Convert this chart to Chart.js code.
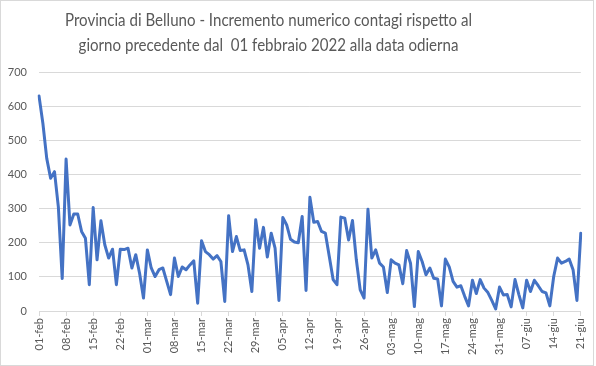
<!DOCTYPE html>
<html>
<head>
<meta charset="utf-8">
<script src="https://cdn.jsdelivr.net/npm/chart.js@4.4.0/dist/chart.umd.min.js"></script>
<style>
  html, body { margin: 0; padding: 0; background: #ffffff; }
  #wrap { position: relative; width: 596px; height: 366px; }
</style>
</head>
<body>
<div id="wrap"><canvas id="c" width="596" height="366"></canvas></div>
<script>
// Title lines
const titleLines = [
  "Provincia di Belluno - Incremento numerico contagi rispetto al",
  "giorno precedente dal  01 febbraio 2022 alla data odierna"
];

// Month abbreviations used for the category labels (Italian)
const monthNames = ["feb", "mar", "apr", "mag", "giu"];
const monthDays = [28, 31, 30, 31, 21]; // 01-feb .. 21-giu

// Tick labels shown on the x axis (every 7 days)
const tickLabels = ["01-feb","08-feb","15-feb","22-feb","01-mar","08-mar","15-mar","22-mar","29-mar",
  "05-apr","12-apr","19-apr","26-apr","03-mag","10-mag","17-mag","24-mag","31-mag","07-giu","14-giu","21-giu"];

// Daily increments (01-feb .. 21-giu)
const febValues = [630,550,447,389,408,305,95,445,252,284,284,233,213,77,303,150,264,194,155,181,77,181,180,184,126,165,110,38];
const marValues = [179,126,101,121,126,87,48,155,101,129,121,135,147,23,206,174,165,152,162,145,28,279,174,218,177,179,135,57,267,184,245];
const aprValues = [158,228,184,31,274,252,210,202,200,277,60,333,260,262,233,228,160,92,77,275,272,208,265,150,62,38,298,155,179,140];
const magValues = [129,54,150,140,135,80,177,140,13,174,145,106,126,96,94,15,152,129,87,70,74,43,15,90,51,92,67,54,31,6,70];
const giuValues = [47,48,12,92,48,9,90,57,90,74,57,53,15,101,155,140,145,152,121,31,228];

// Build categories
const categories = [];
monthNames.forEach((m, mi) => {
  for (let d = 1; d <= monthDays[mi]; d++) {
    categories.push(String(d).padStart(2, "0") + "-" + m);
  }
});
const values = [].concat(febValues, marValues, aprValues, magValues, giuValues);

const textColor = "#595959";
const gridColor = "#d9d9d9";
const fontFamily = "Lato, 'Open Sans', 'Noto Sans', sans-serif";

const decor = {
  id: "decor",
  beforeDraw(chart) {
    const ctx = chart.ctx;
    ctx.save();
    ctx.fillStyle = "#ffffff";
    ctx.fillRect(0, 0, chart.width, chart.height);
    ctx.restore();
  },
  afterDraw(chart) {
    const ctx = chart.ctx;
    ctx.save();
    ctx.strokeStyle = "#d9d9d9";
    ctx.lineWidth = 1;
    ctx.strokeRect(0.5, 0.5, 593, 365);
    ctx.fillStyle = textColor;
    ctx.font = "18px " + fontFamily;
    ctx.textAlign = "center";
    ctx.textBaseline = "middle";
    const w0 = ctx.measureText(titleLines[0]).width;
    const sx = 407 / w0;
    ctx.translate(268.5, 0);
    ctx.scale(sx, 1);
    ctx.fillText(titleLines[0], 0, 20);
    ctx.fillText(titleLines[1], 0, 45);
    ctx.restore();
  }
};

new Chart(document.getElementById("c"), {
  type: "line",
  data: {
    labels: categories,
    datasets: [{
      data: values,
      borderColor: "#4472c4",
      borderWidth: 3,
      pointRadius: 0,
      pointHoverRadius: 0,
      tension: 0,
      fill: false,
      borderJoinStyle: "round",
      borderCapStyle: "round"
    }]
  },
  options: {
    responsive: false,
    animation: false,
    devicePixelRatio: 1,
    layout: { padding: { top: 72, left: 0, right: 14, bottom: 0 } },
    plugins: {
      legend: { display: false },
      title: { display: false },
      tooltip: { enabled: false }
    },
    scales: {
      x: {
        type: "category",
        offset: false,
        grid: { drawOnChartArea: false, drawTicks: true, tickLength: 5, color: gridColor },
        border: { display: true, color: gridColor },
        ticks: {
          autoSkip: false,
          maxRotation: 90,
          minRotation: 90,
          padding: 2,
          color: textColor,
          font: { family: fontFamily, size: 11 },
          callback: function (val, idx) {
            const lab = categories[idx];
            return tickLabels.includes(lab) ? lab : null;
          }
        },
        afterFit(scale) { scale.height = 55; }
      },
      y: {
        min: 0,
        max: 700,
        grid: { color: gridColor, drawTicks: false },
        border: { display: false },
        ticks: {
          stepSize: 100,
          padding: 12,
          color: textColor,
          font: { family: fontFamily, size: 11 }
        },
        afterFit(scale) { scale.width = 39; }
      }
    }
  },
  plugins: [decor]
});
</script>
</body>
</html>
